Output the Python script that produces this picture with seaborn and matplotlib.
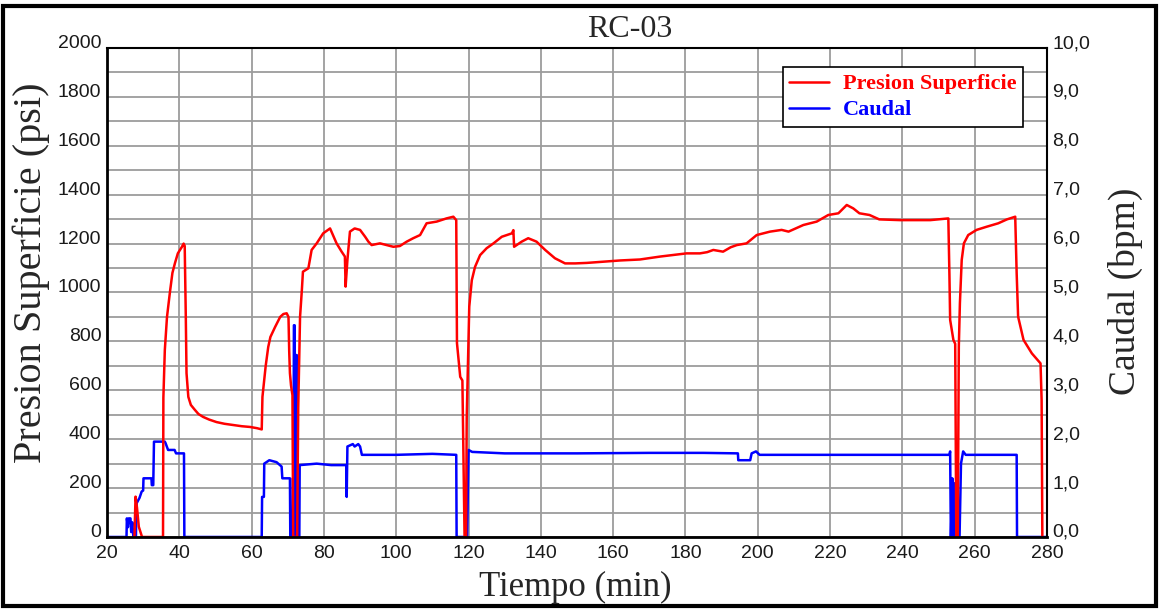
import numpy as np
import pandas as pd
import matplotlib
matplotlib.use('Agg')
import matplotlib.pyplot as plt
from matplotlib.patches import Rectangle
import seaborn as sns

# Presion Superficie (psi) vs Tiempo (min)
t_presion = [27.6, 27.9, 28.3, 28.8, 29.7, 35.5, 35.6, 36.0, 36.6, 37.4,
             38.1, 38.8, 39.6, 40.7, 41.2, 41.5, 41.8, 42.0, 42.5, 43.2,
             44.3, 45.3, 46.6, 48.3, 50.3, 52.5, 54.9, 57.3, 59.6, 61.5,
             62.8, 63.0, 63.9, 64.6, 65.2, 66.5, 67.9, 68.8, 69.7, 70.2,
             70.4, 70.6, 70.9, 71.3, 71.5, 72.6, 72.9, 73.4, 73.9, 74.2,
             75.7, 76.6, 78.0, 79.8, 81.1, 81.7, 82.5, 83.5, 84.9, 85.8,
             86.0, 86.5, 87.2, 88.5, 90.0, 91.4, 92.3, 93.2, 95.5, 97.4,
             99.2, 101.0, 102.9, 104.7, 106.6, 108.4, 111.2, 113.9, 115.8, 116.6,
             116.8, 117.7, 118.3, 118.9, 119.3, 119.5, 120.2, 120.9, 121.8, 123.2,
             125.0, 126.9, 129.2, 132.0, 132.4, 132.6, 134.7, 136.5, 138.8, 141.2,
             143.9, 146.7, 149.5, 152.7, 157.3, 161.9, 167.4, 173.0, 180.3, 184.0,
             186.0, 187.7, 190.4, 192.5, 194.2, 196.9, 199.7, 203.4, 206.6, 208.5,
             212.6, 216.3, 219.5, 222.3, 224.6, 226.4, 228.1, 230.9, 233.6, 239.4,
             247.7, 252.7, 253.0, 253.2, 254.1, 254.6, 254.9, 255.3, 255.6, 255.9,
             256.4, 257.0, 258.2, 260.5, 263.3, 266.5, 268.9, 271.2, 271.6, 272.0,
             273.5, 275.8, 278.2, 278.5, 278.7]
presion = [0, 165, 120, 42, 0, 0, 570, 765, 900, 1000,
           1080, 1120, 1160, 1186, 1200, 1190, 900, 670, 573, 540,
           520, 503, 491, 480, 470, 463, 458, 453, 450, 445,
           440, 573, 700, 777, 818, 859, 900, 912, 915, 900,
           760, 670, 620, 580, 0, 0, 530, 900, 1010, 1085,
           1099, 1174, 1201, 1242, 1256, 1262, 1235, 1201, 1167, 1147,
           1024, 1133, 1249, 1262, 1256, 1228, 1208, 1194, 1201, 1194,
           1187, 1190, 1208, 1222, 1235, 1283, 1290, 1303, 1310, 1296,
           793, 655, 640, 0, 0, 490, 942, 1050, 1105, 1153,
           1181, 1201, 1228, 1242, 1255, 1187, 1208, 1222, 1208, 1174,
           1140, 1119, 1119, 1121, 1126, 1131, 1135, 1147, 1160, 1160,
           1165, 1174, 1167, 1185, 1194, 1201, 1235, 1249, 1256, 1249,
           1276, 1290, 1317, 1324, 1358, 1344, 1324, 1317, 1299, 1296,
           1296, 1303, 1072, 888, 806, 790, 0, 0, 779, 956,
           1133, 1201, 1235, 1256, 1269, 1283, 1299, 1310, 1078, 901,
           806, 751, 710, 560, 0]

# Caudal (bpm) vs Tiempo (min)
t_caudal = [20.0, 25.4, 25.5, 25.8, 26.0, 26.5, 26.7, 27.0, 27.3, 28.0,
            28.2, 29.0, 29.6, 30.0, 30.1, 32.3, 32.4, 32.8, 33.0, 36.0,
            36.2, 36.9, 38.7, 39.1, 41.3, 41.4, 62.8, 62.9, 63.4, 63.5,
            64.9, 66.9, 68.3, 68.5, 70.6, 70.7, 71.3, 71.4, 71.6, 71.7,
            71.9, 72.0, 72.2, 72.3, 72.5, 72.6, 73.2, 73.3, 78.0, 82.0,
            86.2, 86.3, 86.5, 88.0, 88.5, 89.5, 90.0, 90.5, 100.0, 110.0,
            116.6, 116.7, 119.6, 119.8, 120.0, 121.0, 130.0, 150.0, 170.0, 185.0,
            194.5, 194.6, 197.9, 198.3, 199.5, 200.5, 220.0, 240.0, 253.0, 253.2,
            253.4, 253.8, 254.0, 254.3, 254.6, 255.0, 255.3, 255.8, 256.2, 256.8,
            257.5, 271.6, 271.7, 280.0]
caudal = [0, 0, 0.38, 0.2, 0.38, 0.38, 0.1, 0.3, 0, 0,
          0.69, 0.8, 0.93, 0.95, 1.2, 1.2, 1.06, 1.06, 1.95, 1.95,
          1.92, 1.78, 1.78, 1.71, 1.71, 0, 0, 0.82, 0.82, 1.5,
          1.57, 1.53, 1.44, 1.2, 1.2, 0, 0, 1.2, 1.2, 4.33,
          4.33, 0, 0, 3.72, 3.72, 0, 0, 1.47, 1.5, 1.47,
          1.47, 0.82, 1.85, 1.9, 1.85, 1.9, 1.85, 1.68, 1.68, 1.7,
          1.68, 0, 0, 0.9, 1.78, 1.74, 1.71, 1.71, 1.72, 1.72,
          1.71, 1.57, 1.57, 1.71, 1.75, 1.68, 1.68, 1.68, 1.68, 1.75,
          0, 1.2, 0, 1.1, 0, 0.8, 0, 0, 1.5, 1.75,
          1.68, 1.68, 0, 0]

x_ticks = [20, 40, 60, 80, 100, 120, 140, 160, 180, 200, 220, 240, 260, 280]
psi_ticks = [0, 200, 400, 600, 800, 1000, 1200, 1400, 1600, 1800, 2000]
bpm_ticks = [0, 1, 2, 3, 4, 5, 6, 7, 8, 9, 10]
bpm_labels = ['0,0', '1,0', '2,0', '3,0', '4,0', '5,0', '6,0', '7,0', '8,0', '9,0', '10,0']

df_p = pd.DataFrame({'t': t_presion, 'p': presion})
df_c = pd.DataFrame({'t': t_caudal, 'q': caudal})

sns.set_style('white')
plt.rcParams['font.family'] = ['Liberation Sans', 'DejaVu Sans']

fig = plt.figure(figsize=(11.59, 6.10), dpi=100)
ax = fig.add_axes([0.0923, 0.1197, 0.8111, 0.8016])
ax2 = ax.twinx()

sns.lineplot(data=df_c, x='t', y='q', ax=ax2, color='#0000ff', lw=1.8,
             estimator=None, sort=False, legend=False)
sns.lineplot(data=df_p, x='t', y='p', ax=ax, color='#ff0000', lw=1.8,
             estimator=None, sort=False, legend=False)

# red on top of blue
ax.set_zorder(ax2.get_zorder() + 1)
ax.patch.set_visible(False)

ax.set_xlim(20, 280)
ax.set_ylim(0, 2000)
ax2.set_ylim(0, 10)

ax.set_xticks(x_ticks)
ax.set_xticklabels([str(v) for v in x_ticks])
ax.set_yticks(psi_ticks)
ax.set_yticklabels([str(v) for v in psi_ticks])
ax2.set_yticks(bpm_ticks)
ax2.set_yticklabels(bpm_labels)
ax2.set_yticks(np.arange(0, 10.01, 0.5), minor=True)

# grid lives on the lower (blue) axes
ax.grid(False)
ax2.xaxis.set_visible(True)
ax2.tick_params(axis='x', labelbottom=False, labeltop=False, length=0)
ax2.grid(True, which='both', axis='y', color='#9c9c9c', lw=1.3)
ax2.grid(True, which='major', axis='x', color='#9c9c9c', lw=1.3)

ax.tick_params(axis='both', length=0, labelsize=14, labelcolor='#1a1a1a')
ax.tick_params(axis='y', pad=4)
ax.tick_params(axis='x', pad=6)
ax2.tick_params(axis='y', which='both', length=0, labelsize=14, labelcolor='#1a1a1a', pad=4)
for lab in ax.get_yticklabels() + ax2.get_yticklabels():
    lab.set_va('baseline')

for s in ax2.spines.values():
    s.set_visible(False)
for side, w in [('left', 2.0), ('bottom', 2.0), ('top', 1.5), ('right', 1.5)]:
    ax.spines[side].set_visible(True)
    ax.spines[side].set_color('black')
    ax.spines[side].set_linewidth(w)

ax.set_xlabel('Tiempo (min)', family='Liberation Serif', fontsize=25)
ax.xaxis.set_label_coords(0.498, -0.0695)
ax.set_ylabel('Presion Superficie (psi)', family='Liberation Serif', fontsize=29)
ax.yaxis.set_label_coords(-0.0606, 0.54)
ax2.set_xlabel('')
ax2.set_ylabel('Caudal (bpm)', family='Liberation Serif', fontsize=27)
ax2.yaxis.set_label_coords(1.065, 0.502)

leg = ax.legend([ax.lines[0], ax2.lines[0]], ['Presion Superficie', 'Caudal'],
                loc='upper right', bbox_to_anchor=(0.9745, 0.961), borderaxespad=0,
                prop={'family': 'Liberation Serif', 'weight': 'bold', 'size': 16},
                labelcolor=['#ff0000', '#0000ff'], frameon=True, fancybox=False,
                framealpha=1, edgecolor='black', handlelength=1.8,
                handletextpad=0.6, borderpad=0.3, labelspacing=0.25)
leg.get_frame().set_linewidth(1.2)

fig.text(0.5436, 0.9393, 'RC-03', ha='center', va='baseline',
         family='Liberation Serif', fontsize=23)

fig.add_artist(Rectangle((0.0026, 0.0066), 0.9948, 0.9828, transform=fig.transFigure,
                         fill=False, ec='black', lw=3))

fig.savefig('out.png', dpi=100)
